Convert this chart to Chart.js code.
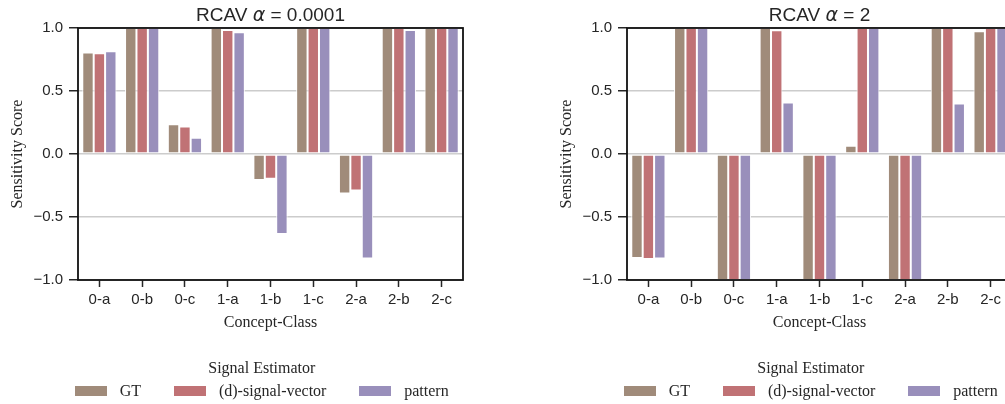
<!DOCTYPE html>
<html>
<head>
<meta charset="utf-8">
<script src="https://cdn.jsdelivr.net/npm/chart.js@4/dist/chart.umd.min.js"></script>
<style>
  html, body { margin: 0; padding: 0; background: #fff; }
  #fig { position: relative; width: 1005px; height: 404px; overflow: hidden; background: #fff; }
  .panel { position: absolute; top: 0; width: 502px; height: 404px; }
  .panel canvas { position: absolute; left: 0; top: 0; }
  .legend { position: absolute; top: 357px; font-family: 'Liberation Serif', 'Times New Roman', serif; font-size: 16px; color: #262626; white-space: nowrap; }
  .legend .ltitle { text-align: center; line-height: 22px; height: 22px; }
  .legend .lrow { display: flex; align-items: center; height: 22px; margin-top: 1px; }
  .legend .lbox { width: 32px; height: 10px; margin-right: 12.8px; }
  .legend .ltext { margin-right: 33px; line-height: 22px; }
  .legend .ltext:last-child { margin-right: 0; }
</style>
</head>
<body>
<div id="fig">
  <div class="panel" id="panelLow" style="left:0px"><canvas id="chartLow" width="502" height="404"></canvas></div>
  <div class="panel" id="panelHigh" style="left:549px"><canvas id="chartHigh" width="502" height="404"></canvas></div>
</div>
<script>
// Concept-class categories on the x axis
const categories = ['0-a', '0-b', '0-c', '1-a', '1-b', '1-c', '2-a', '2-b', '2-c'];

// Y axis tick values
const yTicks = [-1.0, -0.5, 0.0, 0.5, 1.0];

// Signal estimators (legend entries)
const seriesNames = ['GT', '(d)-signal-vector', 'pattern'];
const seriesColors = ['#a08b7a', '#c07275', '#998fbb'];

// Panel titles (alpha values)
const alphaLabels = ['0.0001', '2'];

// RCAV alpha = 0.0001
const lowGT      = [0.805, 1.0, 0.237, 1.0,   -0.207, 1.0, -0.313, 1.0,   1.0];
const lowSignal  = [0.800, 1.0, 0.219, 0.985, -0.196, 1.0, -0.289, 1.0,   1.0];
const lowPattern = [0.815, 1.0, 0.128, 0.966, -0.635, 1.0, -0.830, 0.985, 1.0];

// RCAV alpha = 2
const highGT      = [-0.825, 1.0, -1.0, 1.0,   -1.0, 0.065, -1.0, 1.0,   0.974];
const highSignal  = [-0.833, 1.0, -1.0, 0.982, -1.0, 1.0,   -1.0, 1.0,   1.0];
const highPattern = [-0.830, 1.0, -1.0, 0.409, -1.0, 1.0,   -1.0, 0.401, 1.0];

const TEXT = '#262626';
const SPINE = '#111111';

function fmtTick(v) {
  return v.toFixed(1).replace('-', '\u2212');
}

// Draws the four axis spines and the mixed-style panel title
const framePlugin = {
  id: 'frame',
  afterDraw(chart, args, opts) {
    const { ctx, chartArea: a } = chart;
    ctx.save();
    ctx.strokeStyle = SPINE;
    ctx.lineWidth = 1.8;
    ctx.strokeRect(a.left, a.top, a.right - a.left, a.bottom - a.top);

    // Title: "RCAV α = value" with an italic alpha
    const parts = [
      { t: 'RCAV ', f: '19px "Liberation Sans", Arial, sans-serif' },
      { t: '\u03b1', f: 'italic 19px "DejaVu Sans", sans-serif' },
      { t: ' = ' + opts.alpha, f: '19px "Liberation Sans", Arial, sans-serif' }
    ];
    let total = 0;
    parts.forEach(p => { ctx.font = p.f; p.w = ctx.measureText(p.t).width; total += p.w; });
    let x = (a.left + a.right) / 2 - total / 2;
    ctx.fillStyle = TEXT;
    ctx.textBaseline = 'alphabetic';
    ctx.textAlign = 'left';
    parts.forEach(p => { ctx.font = p.f; ctx.fillText(p.t, x, 20.5); x += p.w; });
    ctx.restore();
  }
};

function makeChart(canvasId, series, alpha) {
  const ctx = document.getElementById(canvasId);
  return new Chart(ctx, {
    type: 'bar',
    data: {
      labels: categories,
      datasets: series.map((vals, i) => ({
        label: seriesNames[i],
        data: vals,
        backgroundColor: seriesColors[i],
        borderColor: '#ffffff',
        borderWidth: 1,
        borderSkipped: false,
        categoryPercentage: 0.8,
        barPercentage: 1.0
      }))
    },
    options: {
      responsive: false,
      animation: false,
      devicePixelRatio: 1,
      layout: { padding: { left: 0, top: 28, right: 39, bottom: 0 } },
      plugins: {
        legend: { display: false },
        tooltip: { enabled: false },
        title: { display: false },
        frame: { alpha: alpha }
      },
      scales: {
        x: {
          offset: true,
          grid: {
            display: true, offset: false, drawOnChartArea: false, drawTicks: true,
            tickLength: 7, tickColor: TEXT, tickWidth: 1.5
          },
          border: { display: false },
          ticks: {
            font: { family: '"Liberation Sans", Arial, sans-serif', size: 15 },
            color: TEXT, padding: 4, maxRotation: 0, autoSkip: false
          },
          title: {
            display: true, text: 'Concept-Class',
            font: { family: '"Liberation Serif", "Times New Roman", serif', size: 16 },
            color: TEXT, padding: { top: 0, bottom: 72 }
          },
          afterFit: s => { s.height = 124; }
        },
        y: {
          min: -1, max: 1,
          afterBuildTicks: s => { s.ticks = yTicks.map(v => ({ value: v })); },
          grid: {
            color: '#cccccc', lineWidth: 1.5, drawTicks: true,
            tickLength: 9, tickColor: TEXT, tickWidth: 1.5
          },
          border: { display: false },
          ticks: {
            font: { family: '"Liberation Sans", Arial, sans-serif', size: 15 },
            color: TEXT, padding: 6,
            callback: v => fmtTick(v)
          },
          title: {
            display: true, text: 'Sensitivity Score',
            font: { family: '"Liberation Serif", "Times New Roman", serif', size: 16 },
            color: TEXT, padding: { top: 8, bottom: 0 }
          },
          afterFit: s => { s.width = 78; }
        }
      }
    },
    plugins: [framePlugin]
  });
}

function buildLegend(panelId, left) {
  const panel = document.getElementById(panelId);
  const wrap = document.createElement('div');
  wrap.className = 'legend';
  wrap.style.left = left + 'px';
  const title = document.createElement('div');
  title.className = 'ltitle';
  title.textContent = 'Signal Estimator';
  wrap.appendChild(title);
  const row = document.createElement('div');
  row.className = 'lrow';
  seriesNames.forEach((name, i) => {
    const box = document.createElement('span');
    box.className = 'lbox';
    box.style.background = seriesColors[i];
    const txt = document.createElement('span');
    txt.className = 'ltext';
    txt.textContent = name;
    row.appendChild(box);
    row.appendChild(txt);
  });
  wrap.appendChild(row);
  panel.appendChild(wrap);
}

makeChart('chartLow', [lowGT, lowSignal, lowPattern], alphaLabels[0]);
makeChart('chartHigh', [highGT, highSignal, highPattern], alphaLabels[1]);
buildLegend('panelLow', 75);
buildLegend('panelHigh', 75);
</script>
</body>
</html>
